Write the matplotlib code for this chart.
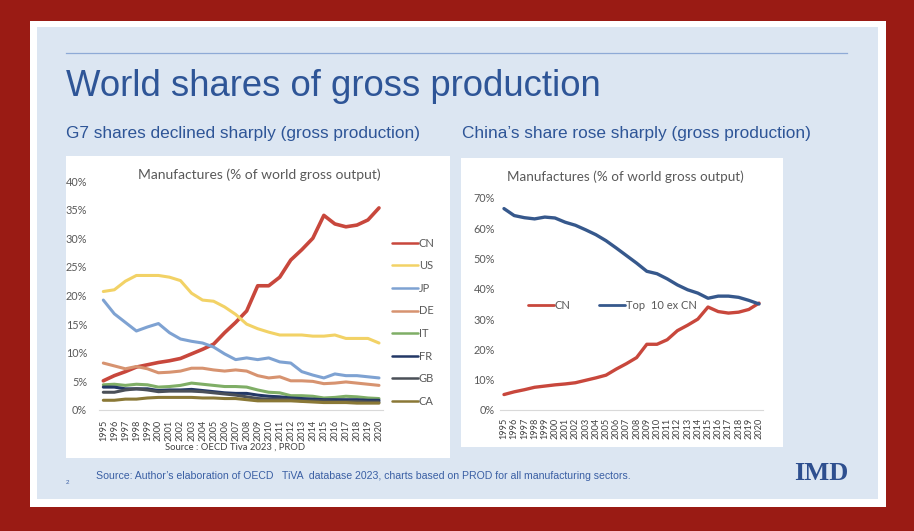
import matplotlib
matplotlib.use('Agg')
import matplotlib.pyplot as plt
from matplotlib.patches import Rectangle
from matplotlib.lines import Line2D
from matplotlib.ticker import FuncFormatter, MultipleLocator

# ---------------- data ----------------
years = list(range(1995, 2021))

cn = [5.1, 6.0, 6.7, 7.5, 7.9, 8.3, 8.6, 9.0, 9.8, 10.6, 11.5, 13.5, 15.3, 17.3,
      21.7, 21.7, 23.2, 26.2, 28.0, 30.0, 34.0, 32.5, 32.0, 32.3, 33.2, 35.3]
us = [20.7, 21.0, 22.5, 23.5, 23.5, 23.5, 23.2, 22.6, 20.4, 19.2, 19.0, 18.0, 16.7,
      15.0, 14.2, 13.6, 13.1, 13.1, 13.1, 12.9, 12.9, 13.1, 12.5, 12.5, 12.5, 11.7]
jp = [19.2, 16.8, 15.3, 13.8, 14.5, 15.1, 13.5, 12.4, 12.0, 11.7, 11.0, 9.8, 8.8,
      9.1, 8.8, 9.1, 8.4, 8.2, 6.7, 6.1, 5.6, 6.3, 6.0, 6.0, 5.8, 5.6]
de = [8.2, 7.7, 7.2, 7.6, 7.2, 6.5, 6.6, 6.8, 7.3, 7.3, 7.0, 6.8, 7.0, 6.8, 6.0,
      5.6, 5.8, 5.1, 5.1, 5.0, 4.6, 4.7, 4.9, 4.7, 4.5, 4.3]
it = [4.4, 4.5, 4.3, 4.5, 4.4, 4.0, 4.1, 4.3, 4.7, 4.5, 4.3, 4.1, 4.1, 4.0, 3.5,
      3.1, 3.0, 2.5, 2.5, 2.4, 2.1, 2.2, 2.4, 2.3, 2.1, 2.0]
fr = [4.0, 4.0, 3.7, 3.7, 3.7, 3.4, 3.5, 3.5, 3.6, 3.4, 3.2, 3.0, 2.9, 2.9, 2.6,
      2.4, 2.3, 2.1, 2.0, 1.9, 1.8, 1.8, 1.8, 1.8, 1.7, 1.7]
gb = [3.1, 3.1, 3.5, 3.7, 3.5, 3.2, 3.3, 3.3, 3.3, 3.2, 3.0, 2.8, 2.6, 2.3, 2.0,
      1.9, 1.9, 1.8, 1.6, 1.6, 1.6, 1.5, 1.5, 1.5, 1.4, 1.4]
ca = [1.7, 1.7, 1.9, 1.9, 2.1, 2.2, 2.2, 2.2, 2.2, 2.1, 2.1, 2.0, 2.0, 1.8, 1.6,
      1.6, 1.6, 1.6, 1.5, 1.4, 1.3, 1.3, 1.3, 1.2, 1.2, 1.2]
top10_ex_cn = [66.5, 64.2, 63.5, 63.1, 63.7, 63.4, 62.0, 61.0, 59.5, 57.9, 55.9,
               53.5, 51.0, 48.5, 45.8, 45.0, 43.3, 41.3, 39.7, 38.6, 36.9, 37.6,
               37.6, 37.2, 36.2, 35.0]

g7_labels = ['CN', 'US', 'JP', 'DE', 'IT', 'FR', 'GB', 'CA']
g7_series = [cn, us, jp, de, it, fr, gb, ca]
g7_colors = ['#c8473c', '#f2d266', '#7ea2d2', '#d79370', '#7fae66', '#233866',
             '#4b5058', '#8a7836']
right_labels = ['CN', 'Top  10 ex CN']
right_series = [cn, top10_ex_cn]
right_colors = ['#c8473c', '#36588c']

slide_title = 'World shares of gross production'
left_sub = 'G7 shares declined sharply (gross production)'
right_sub = "China\u2019s share rose sharply (gross production)"
chart_title = 'Manufactures (% of world gross output)'
left_source = 'Source : OECD Tiva 2023 , PROD'
footer = ("Source: Author\u2019s elaboration of OECD   TiVA  database 2023, charts "
          "based on PROD for all manufacturing sectors.")

# ---------------- figure ----------------
W, H = 914, 531
fig = plt.figure(figsize=(W / 100, H / 100), dpi=100)
fig.patch.set_facecolor('#9a1b14')

SLIDE = ['Liberation Sans', 'DejaVu Sans']
CHART = ['Lato', 'DejaVu Sans']


def rect(x0, y0, x1, y1, color, z):
    fig.add_artist(Rectangle((x0 / W, 1 - y1 / H), (x1 - x0) / W, (y1 - y0) / H,
                             transform=fig.transFigure, facecolor=color,
                             edgecolor='none', zorder=z))


def ftext(x, y, s, **kw):
    fig.text(x / W, 1 - y / H, s, **kw)


rect(30, 21, 886, 507, 'white', -5)
rect(37, 27, 878, 499, '#dce6f2', -4)
rect(66, 156, 450, 458, 'white', -3)
rect(461, 158, 783, 447, 'white', -3)
fig.add_artist(Line2D([66 / W, 847 / W], [1 - 53.3 / H, 1 - 53.3 / H],
                      transform=fig.transFigure, color='#8eaad6', lw=0.9, zorder=-2))

ftext(66, 96, slide_title, family=SLIDE, fontsize=26.3, color='#2e5597',
      ha='left', va='baseline')
ftext(66, 138, left_sub, family=SLIDE, fontsize=12.4, color='#2e5597',
      ha='left', va='baseline')
ftext(462, 138, right_sub, family=SLIDE, fontsize=12.4, color='#2e5597',
      ha='left', va='baseline')
ftext(96, 476, footer, family=SLIDE, fontsize=7.6, color='#3a5fa4',
      ha='left', va='center')
ftext(66, 482, '2', family=SLIDE, fontsize=4.5, color='#3a5fa4', ha='left', va='center')
ftext(821, 473, 'IMD', family=['Liberation Serif', 'DejaVu Serif'], fontsize=19,
      fontweight='bold', color='#2e4f8f', ha='center', va='center')

ftext(259, 175, chart_title, family=CHART, fontsize=10.0, color='#595959',
      ha='center', va='center')
ftext(625, 177, chart_title, family=CHART, fontsize=9.7, color='#595959',
      ha='center', va='center')
ftext(235, 447.5, left_source, family=CHART, fontsize=6.8, color='#404040',
      ha='center', va='center')

pct = FuncFormatter(lambda v, p: f'{v:.0f}%')


def style_axes(ax, ymax, ystep, ypad, xpad):
    ax.set_facecolor('none')
    ax.set_xlim(1994.6, 2020.4)
    ax.set_ylim(0, ymax)
    ax.yaxis.set_major_locator(MultipleLocator(ystep))
    ax.yaxis.set_major_formatter(pct)
    ax.set_xticks(years)
    ax.set_xticklabels([str(y) for y in years], rotation=90,
                       family=CHART, fontsize=6.6, color='#404040')
    for lab in ax.get_yticklabels():
        lab.set_family(CHART)
    ax.tick_params(axis='y', length=0, pad=ypad, labelsize=7.8, labelcolor='#595959')
    ax.tick_params(axis='x', length=0, pad=xpad)
    for s in ('top', 'left', 'right'):
        ax.spines[s].set_visible(False)
    ax.spines['bottom'].set_color('#d9d9d9')
    ax.spines['bottom'].set_linewidth(0.8)


# Left chart
axl = fig.add_axes([98.9 / W, 1 - 410 / H, (383.4 - 98.9) / W, (410 - 181) / H])
for lab, ser, col in zip(g7_labels, g7_series, g7_colors):
    axl.plot(years, ser, color=col, lw=2.6 if lab == 'CN' else 2.2,
             solid_capstyle='round', label=lab, clip_on=False)
style_axes(axl, 40, 5, 8.4, 7.0)
legl = axl.legend(loc='center left', bbox_to_anchor=(392 / W, 1 - 322.2 / H),
                  bbox_transform=fig.transFigure, frameon=False,
                  handlelength=2.3, handletextpad=0.1, labelspacing=1.04,
                  borderpad=0, borderaxespad=0, prop={'family': CHART, 'size': 8})
for t in legl.get_texts():
    t.set_color('#595959')
for h in legl.get_lines():
    h.set_linewidth(1.8)

# Right chart
axr = fig.add_axes([499.9 / W, 1 - 410 / H, (763.1 - 499.9) / W, (410 - 198) / H])
for lab, ser, col in zip(right_labels, right_series, right_colors):
    axr.plot(years, ser, color=col, lw=2.4, solid_capstyle='round', label=lab,
             clip_on=False)
style_axes(axr, 70, 10, 3.6, 5.8)
legr = axr.legend(loc='center left', bbox_to_anchor=(528 / W, 1 - 305.7 / H),
                  bbox_transform=fig.transFigure, frameon=False, ncol=2,
                  handlelength=2.3, handletextpad=0.1, columnspacing=2.6,
                  borderpad=0, borderaxespad=0, prop={'family': CHART, 'size': 8})
for t in legr.get_texts():
    t.set_color('#595959')
for h in legr.get_lines():
    h.set_linewidth(2.0)

fig.savefig('out.png', dpi=100, facecolor=fig.get_facecolor())
